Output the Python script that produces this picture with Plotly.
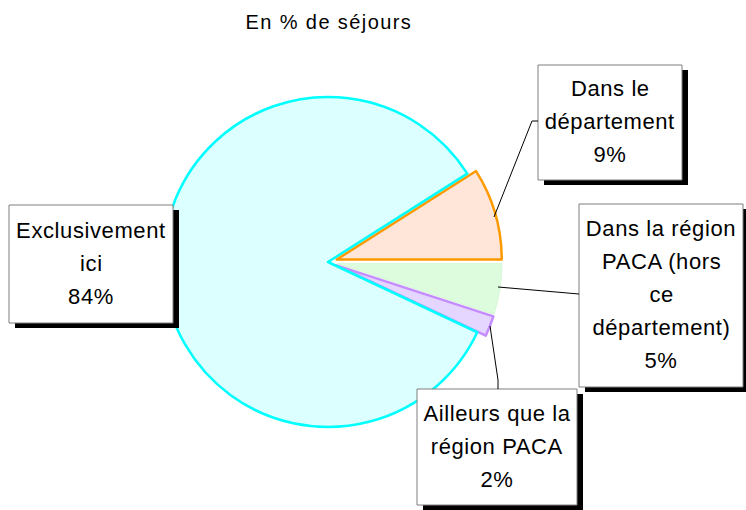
import plotly.graph_objects as go

# slices, clockwise from the top edge of the orange slice
labels = ["Dans le département", "Dans la région PACA (hors ce département)",
          "Ailleurs que la région PACA", "Exclusivement ici"]
values = [9, 5, 2, 84]
pulls = [0.055, 0.055, 0.055, 0]
fills = ["#FFE6D8", "#DDFCDD", "#E4D6FF", "#DCFFFF"]
borders = ["#FF9900", "#D8F8D8", "#C58CFF", "#00FFFF"]
box_lines = [["Dans le", "département"],
             ["Dans la région", "PACA (hors", "ce", "département)"],
             ["Ailleurs que la", "région PACA"],
             ["Exclusivement", "ici"]]

W, H = 746, 510
cx, cy, r = 328, 262, 165
half = r * (1 + max(pulls))

fig = go.Figure()
fig.add_trace(go.Pie(
    labels=labels, values=values, pull=pulls, sort=False,
    direction="clockwise", rotation=57.6,
    marker=dict(colors=fills, line=dict(color=borders, width=[2.5, 1, 2.5, 2.5])),
    textinfo="none", hoverinfo="label+percent", showlegend=False,
    domain=dict(x=[(cx - half) / W, (cx + half) / W],
                y=[(H - cy - half) / H, (H - cy + half) / H]),
))

# label boxes (x0, y0, x1, y1) in pixels, first line centre; lines 33px apart
boxes = [(538, 65, 682, 180, 88), (579, 204, 743, 387, 228),
         (417, 389, 577, 505, 413), (9, 205, 173, 323, 230)]
leaders = [[(494, 217), (532, 121), (538, 121)],
           [(498, 287), (579, 294)],
           [(490, 326), (498, 380), (498, 389)]]

shapes = []
annotations = []
for (x0, y0, x1, y1, ty), lines, v in zip(boxes, box_lines, values):
    shapes.append(dict(type="rect", x0=x0 + 6, y0=y0 + 5, x1=x1 + 6, y1=y1 + 5,
                       xref="x", yref="y", fillcolor="black", line=dict(width=0)))
    shapes.append(dict(type="rect", x0=x0, y0=y0, x1=x1, y1=y1, xref="x", yref="y",
                       fillcolor="white", line=dict(color="#7f7f7f", width=1)))
    for i, t in enumerate(lines + [f"{v}%"]):
        annotations.append(dict(x=(x0 + x1) / 2, y=ty + i * 33, xref="x", yref="y",
                                text=t, showarrow=False, xanchor="center", yanchor="middle",
                                font=dict(size=22, color="black")))

for pts in leaders:
    path = "M " + " L ".join(f"{x},{y}" for x, y in pts)
    shapes.append(dict(type="path", path=path, xref="x", yref="y",
                       line=dict(color="black", width=1)))

annotations.append(dict(x=329, y=22, xref="x", yref="y", text="En % de séjours",
                        showarrow=False, xanchor="center", yanchor="middle",
                        font=dict(size=20, color="black")))

fig.update_layout(
    width=W, height=H, margin=dict(l=0, r=0, t=0, b=0),
    paper_bgcolor="white", plot_bgcolor="rgba(0,0,0,0)",
    font=dict(family="Liberation Sans, Arial, sans-serif", color="black"),
    xaxis=dict(range=[0, W], visible=False, fixedrange=True),
    yaxis=dict(range=[H, 0], visible=False, fixedrange=True),
    shapes=shapes, annotations=annotations,
)

# drop the page margin; widen letter spacing a little like the original
post = """
document.body.style.margin = '0';
document.querySelectorAll('.annotation-text').forEach(function (t) {
    t.style.letterSpacing = t.textContent.indexOf('séjours') >= 0 ? '1.4px' : '0.6px';
});
"""
fig.write_html("out.html", post_script=post, config={"displayModeBar": False})
